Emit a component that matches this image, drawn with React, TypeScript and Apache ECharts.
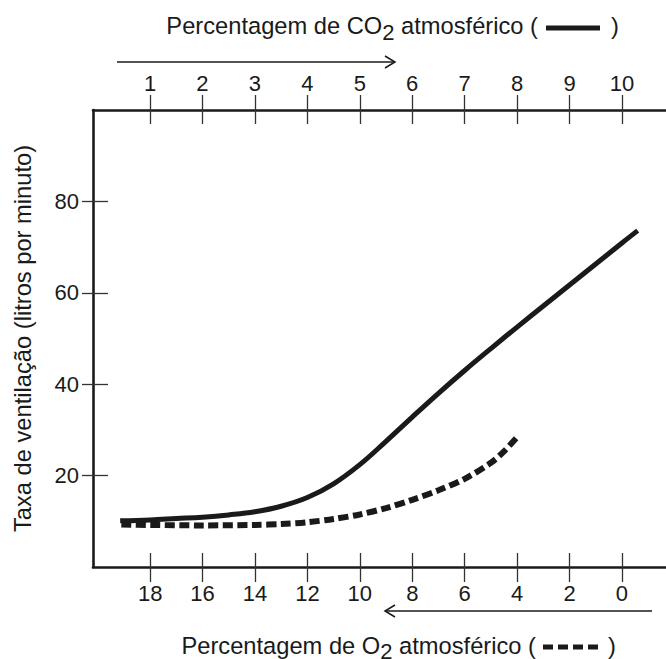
import React, { useEffect, useRef } from "react";
import * as echarts from "echarts";

// CO2 axis (top), percentage
const co2Ticks = [1, 2, 3, 4, 5, 6, 7, 8, 9, 10];
// O2 axis (bottom), percentage, inverse
const o2Ticks = [18, 16, 14, 12, 10, 8, 6, 4, 2, 0];
// Ventilation ticks
const yTicks = [20, 40, 60, 80];

// Solid curve: ventilation vs CO2 %
const co2X = [0.43, 1, 1.5, 2, 2.5, 3, 3.5, 4, 4.5, 5, 5.5, 6, 6.5, 7, 7.5, 8, 8.5, 9, 9.5, 10, 10.3];
const co2Y = [10.1, 10.3, 10.6, 10.9, 11.4, 12.1, 13.3, 15.2, 18.2, 22.4, 27.5, 32.8, 38.0, 43.0, 47.8, 52.5, 57.1, 61.7, 66.3, 70.9, 73.6];

// Dashed curve: ventilation vs O2 %
const o2X = [19.1, 18, 16, 14, 13, 12, 11, 10, 9, 8, 7, 6, 5, 4.5, 4];
const o2Y = [9.3, 9.2, 9.1, 9.2, 9.4, 9.8, 10.5, 11.5, 12.9, 14.7, 16.8, 19.3, 22.8, 25.3, 28.4];

const FONT = "'Liberation Sans', Arial, Helvetica, sans-serif";
const INK = "#1a1a1a";

export default function App() {
  const ref = useRef<HTMLDivElement>(null);

  useEffect(() => {
    if (!ref.current) return;
    const chart = echarts.init(ref.current, null, { renderer: "svg" });

    const labelStyle = { color: INK, fontSize: 22, fontFamily: FONT };
    const tickStyle = { color: "#333", width: 1.3 };
    const lineStyle = { color: INK, width: 2.6 };

    const co2Min = -0.088;
    const co2Max = 10.84;
    const o2Min = -1.68;
    const o2Max = 20.18;
    const TF = 23.7;

    const option: any = {
      animation: false,
      backgroundColor: "#fff",
      grid: { left: 93, top: 110, right: 0, bottom: 92, containLabel: false, outerBoundsMode: "none" },
      xAxis: [
        {
          type: "value", position: "top", min: co2Min, max: co2Max,
          axisLine: { show: true, onZero: false, lineStyle },
          axisTick: { show: true, inside: false, length: 15, customValues: co2Ticks, lineStyle: tickStyle },
          axisLabel: { show: true, margin: 16, customValues: co2Ticks, ...labelStyle },
          splitLine: { show: false },
        },
        {
          type: "value", position: "top", min: co2Min, max: co2Max,
          axisLine: { show: false, onZero: false },
          axisTick: { show: true, inside: true, length: 14, customValues: co2Ticks, lineStyle: tickStyle },
          axisLabel: { show: false },
          splitLine: { show: false },
        },
        {
          type: "value", position: "bottom", inverse: true, min: o2Min, max: o2Max,
          axisLine: { show: true, onZero: false, lineStyle },
          axisTick: { show: true, inside: false, length: 15, customValues: o2Ticks, lineStyle: tickStyle },
          axisLabel: { show: true, margin: 15, customValues: o2Ticks, ...labelStyle },
          splitLine: { show: false },
        },
        {
          type: "value", position: "bottom", inverse: true, min: o2Min, max: o2Max,
          axisLine: { show: false, onZero: false },
          axisTick: { show: true, inside: true, length: 14, customValues: o2Ticks, lineStyle: tickStyle },
          axisLabel: { show: false },
          splitLine: { show: false },
        },
      ],
      yAxis: [
        {
          type: "value", position: "left", min: 0, max: 100,
          axisLine: { show: true, onZero: false, lineStyle },
          axisTick: { show: true, inside: false, length: 11, customValues: yTicks, lineStyle: tickStyle },
          axisLabel: { show: true, margin: 14, customValues: yTicks, ...labelStyle },
          splitLine: { show: false },
          name: "Taxa de ventilação (litros por minuto)",
          nameLocation: "middle",
          nameGap: 58,
          nameRotate: 90,
          nameTextStyle: { color: INK, fontSize: TF, fontFamily: FONT },
        },
        {
          type: "value", position: "left", min: 0, max: 100,
          axisLine: { show: false, onZero: false },
          axisTick: { show: true, inside: true, length: 15, customValues: yTicks, lineStyle: tickStyle },
          axisLabel: { show: false },
          splitLine: { show: false },
        },
      ],
      series: [
        {
          type: "line",
          xAxisIndex: 0,
          yAxisIndex: 0,
          data: co2X.map((x, i) => [x, co2Y[i]]),
          smooth: 0.4,
          symbol: "none",
          lineStyle: { color: INK, width: 5, cap: "butt" },
        },
        {
          type: "line",
          xAxisIndex: 2,
          yAxisIndex: 0,
          data: o2X.map((x, i) => [x, o2Y[i]]),
          smooth: 0.3,
          symbol: "none",
          lineStyle: { color: INK, width: 6, type: [10, 4.5], cap: "butt" },
        },
      ],
      graphic: [
        // Top title
        {
          type: "text", right: 666 - 538, top: 14,
          style: {
            text: "{n|Percentagem de CO}{s|2}{n| atmosférico (}",
            rich: {
              n: { fontSize: TF, fontFamily: FONT, fill: INK, verticalAlign: "top" },
              s: { fontSize: 22, fontFamily: FONT, fill: INK, verticalAlign: "top", padding: [7, 0, 0, 0] },
            },
          },
        },
        { type: "line", shape: { x1: 546, y1: 28, x2: 600, y2: 28 }, style: { stroke: INK, lineWidth: 5 } },
        { type: "text", left: 611, top: 14, style: { text: ")", fontSize: TF, fontFamily: FONT, fill: INK } },
        // Top arrow
        { type: "line", shape: { x1: 117, y1: 62, x2: 395, y2: 62 }, style: { stroke: INK, lineWidth: 1.3 } },
        { type: "polyline", shape: { points: [[385, 56], [395, 62], [385, 68]] }, style: { stroke: INK, lineWidth: 1.5, fill: "none" } },
        // Bottom arrow
        { type: "line", shape: { x1: 385, y1: 611, x2: 652, y2: 611 }, style: { stroke: INK, lineWidth: 1.3 } },
        { type: "polyline", shape: { points: [[395, 605], [385, 611], [395, 617]] }, style: { stroke: INK, lineWidth: 1.5, fill: "none" } },
        // Bottom title
        {
          type: "text", right: 666 - 536, top: 634,
          style: {
            text: "{n|Percentagem de O}{s|2}{n| atmosférico (}",
            rich: {
              n: { fontSize: TF, fontFamily: FONT, fill: INK, verticalAlign: "top" },
              s: { fontSize: 22, fontFamily: FONT, fill: INK, verticalAlign: "top", padding: [6, 0, 0, 0] },
            },
          },
        },
        { type: "line", shape: { x1: 543, y1: 647, x2: 598, y2: 647 }, style: { stroke: INK, lineWidth: 5, lineDash: [10, 5] } },
        { type: "text", left: 608, top: 634, style: { text: ")", fontSize: TF, fontFamily: FONT, fill: INK } },
      ],
    };

    chart.setOption(option);
    return () => chart.dispose();
  }, []);

  return (
    <div
      ref={ref}
      style={{ position: "fixed", left: 0, top: 0, width: 666, height: 659, background: "#fff" }}
    />
  );
}
